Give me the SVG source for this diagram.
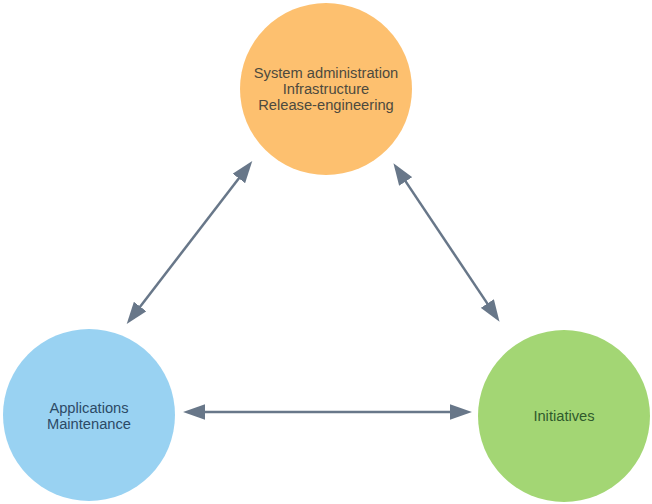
<svg xmlns="http://www.w3.org/2000/svg" width="652" height="504" viewBox="0 0 652 504">
<style>
.lbl{font-family:"Liberation Sans",Arial,sans-serif;font-size:14.7px;text-anchor:middle}
.conn{stroke:#687789;stroke-width:2.5;fill:none;marker-start:url(#ah);marker-end:url(#ah)}
</style>
<defs>
<marker id="ah" markerUnits="userSpaceOnUse" markerWidth="22" markerHeight="16" refX="1" refY="7.5" orient="auto-start-reverse" viewBox="0 0 21 15">
<path d="M0,0 L21,7.5 L0,15 z" fill="#687789"/>
</marker>
</defs>
<rect width="652" height="504" fill="#ffffff"/>
<g id="connectors">
<line class="conn" x1="239.5" y1="177.6" x2="139.5" y2="307.4"/>
<line class="conn" x1="405.1" y1="180.6" x2="487.9" y2="304.4"/>
<line class="conn" x1="204" y1="412" x2="451" y2="412"/>
</g>
<g id="sysadmin">
<circle cx="326" cy="89" r="86" fill="#FDC06F"/>
<text class="lbl" fill="#4d4a3e"><tspan x="326" y="78">System administration</tspan><tspan x="326" y="94">Infrastructure</tspan><tspan x="326" y="110">Release-engineering</tspan></text>
</g>
<g id="appmaint">
<circle cx="89" cy="415" r="86" fill="#99D2F2"/>
<text class="lbl" fill="#2c4a66"><tspan x="89" y="413">Applications</tspan><tspan x="89" y="429">Maintenance</tspan></text>
</g>
<g id="initiatives">
<circle cx="564" cy="416" r="86" fill="#A3D674"/>
<text class="lbl" fill="#2f5a2c" x="564" y="421">Initiatives</text>
</g>
</svg>
